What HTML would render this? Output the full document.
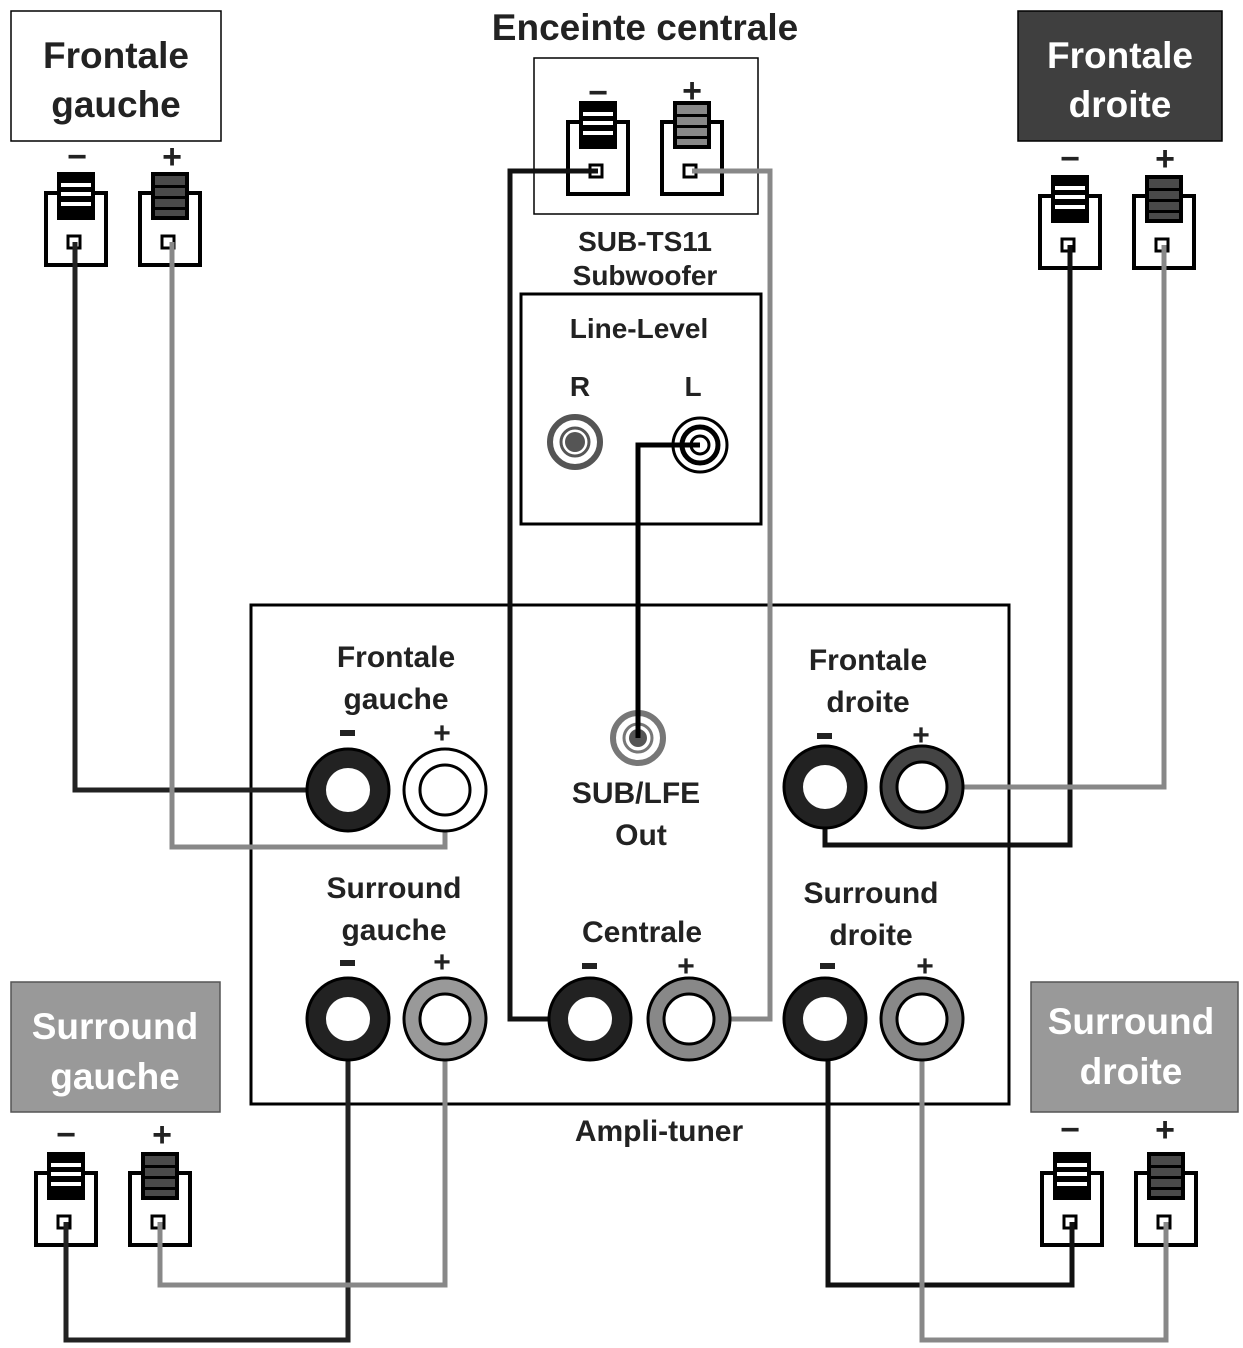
<!DOCTYPE html>
<html><head><meta charset="utf-8"><style>
html,body{margin:0;padding:0;background:#fff;}
svg{display:block;}
text{font-family:"Liberation Sans Narrow","Liberation Sans",sans-serif;font-weight:bold;text-anchor:middle;}
</style></head><body>
<svg width="1243" height="1348" viewBox="0 0 1243 1348" xmlns="http://www.w3.org/2000/svg">
<defs>
<g id="tm">
<rect x="0" y="0" width="60" height="72" fill="#fff" stroke="#000" stroke-width="4"/>
<rect x="11" y="-21" width="38" height="48" fill="#000"/>
<rect x="15" y="-10" width="30" height="4" fill="#fff"/>
<rect x="15" y="-1" width="30" height="4" fill="#fff"/>
<rect x="15" y="9" width="30" height="4" fill="#fff"/>
<rect x="22" y="43" width="12" height="12" fill="#fff" stroke="#000" stroke-width="3"/>
</g>
<g id="tp">
<rect x="0" y="0" width="60" height="72" fill="#fff" stroke="#000" stroke-width="4"/>
<rect x="13" y="-19" width="34" height="44" fill="#4a4a4a" stroke="#000" stroke-width="4"/>
<rect x="13" y="-8" width="34" height="3" fill="#000"/>
<rect x="13" y="3" width="34" height="3" fill="#000"/>
<rect x="13" y="14" width="34" height="3" fill="#000"/>
<rect x="22" y="43" width="12" height="12" fill="#fff" stroke="#000" stroke-width="3"/>
</g>
<g id="tpl">
<rect x="0" y="0" width="60" height="72" fill="#fff" stroke="#000" stroke-width="4"/>
<rect x="13" y="-19" width="34" height="44" fill="#888" stroke="#000" stroke-width="4"/>
<rect x="13" y="-8" width="34" height="3" fill="#000"/>
<rect x="13" y="3" width="34" height="3" fill="#000"/>
<rect x="13" y="14" width="34" height="3" fill="#000"/>
<rect x="22" y="43" width="12" height="12" fill="#fff" stroke="#000" stroke-width="3"/>
</g>
</defs>

<rect x="11" y="11" width="210" height="130" fill="#fff" stroke="#000" stroke-width="1.5"/>
<rect x="1018" y="11" width="204" height="130" fill="#3f3f3f" stroke="#000" stroke-width="1.5"/>
<rect x="11" y="982" width="209" height="130" fill="#999" stroke="#555" stroke-width="1.5"/>
<rect x="1031" y="982" width="207" height="130" fill="#999" stroke="#555" stroke-width="1.5"/>
<rect x="534" y="58" width="224" height="156" fill="#fff" stroke="#000" stroke-width="1.5"/>
<rect x="521" y="294" width="240" height="230" fill="none" stroke="#000" stroke-width="3"/>
<rect x="251" y="605" width="758" height="499" fill="none" stroke="#000" stroke-width="3"/>

<text x="116" y="68" font-size="37" fill="#222">Frontale</text>
<text x="116" y="117" font-size="37" fill="#222">gauche</text>
<text x="1120" y="68" font-size="37" fill="#fff">Frontale</text>
<text x="1120" y="117" font-size="37" fill="#fff">droite</text>
<text x="115" y="1039" font-size="37" fill="#fff">Surround</text>
<text x="115" y="1089" font-size="37" fill="#fff">gauche</text>
<text x="1131" y="1034" font-size="37" fill="#fff">Surround</text>
<text x="1131" y="1084" font-size="37" fill="#fff">droite</text>
<text x="645" y="40" font-size="37" fill="#222">Enceinte centrale</text>
<text x="645" y="251" font-size="28" fill="#222">SUB-TS11</text>
<text x="645" y="285" font-size="28" fill="#222">Subwoofer</text>
<text x="639" y="338" font-size="28" fill="#222">Line-Level</text>
<text x="580" y="396" font-size="28" fill="#222">R</text>
<text x="693" y="396" font-size="28" fill="#222">L</text>
<text x="396" y="667" font-size="30" fill="#222">Frontale</text>
<text x="396" y="709" font-size="30" fill="#222">gauche</text>
<text x="868" y="670" font-size="30" fill="#222">Frontale</text>
<text x="868" y="712" font-size="30" fill="#222">droite</text>
<text x="636" y="803" font-size="30" fill="#222">SUB/LFE</text>
<text x="641" y="845" font-size="30" fill="#222">Out</text>
<text x="394" y="898" font-size="30" fill="#222">Surround</text>
<text x="394" y="940" font-size="30" fill="#222">gauche</text>
<text x="642" y="942" font-size="30" fill="#222">Centrale</text>
<text x="871" y="903" font-size="30" fill="#222">Surround</text>
<text x="871" y="945" font-size="30" fill="#222">droite</text>
<text x="659" y="1141" font-size="30" fill="#222">Ampli-tuner</text>

<g font-size="34" fill="#222">
<text x="77" y="168">−</text><text x="172" y="168">+</text>
<text x="1070" y="170">−</text><text x="1165" y="170">+</text>
<text x="598" y="104">−</text><text x="692" y="102">+</text>
<text x="66" y="1146">−</text><text x="162" y="1146">+</text>
<text x="1070" y="1141">−</text><text x="1165" y="1141">+</text>
</g>
<g font-size="30" fill="#222">
<text x="442" y="743">+</text>
<text x="921" y="745">+</text>
<text x="442" y="972">+</text>
<text x="686" y="976">+</text>
<text x="925" y="976">+</text>
</g>
<g fill="#222">
<rect x="340" y="730" width="15" height="6"/>
<rect x="817" y="733" width="15" height="6"/>
<rect x="340" y="960" width="15" height="6"/>
<rect x="582" y="963" width="15" height="6"/>
<rect x="820" y="963" width="15" height="6"/>
</g>

<use href="#tm" x="46" y="193"/><use href="#tp" x="140" y="193"/>
<use href="#tm" x="1040" y="196"/><use href="#tp" x="1134" y="196"/>
<use href="#tm" x="568" y="122"/><use href="#tpl" x="662" y="122"/>
<use href="#tm" x="36" y="1173"/><use href="#tp" x="130" y="1173"/>
<use href="#tm" x="1042" y="1173"/><use href="#tp" x="1136" y="1173"/>

<g fill="none" stroke-width="5" stroke-linejoin="miter">
<polyline points="75,242 75,790 320,790" stroke="#222"/>
<polyline points="172,242 172,847 445,847 445,825" stroke="#888"/>
<polyline points="825,800 825,845 1070,845 1070,245" stroke="#111"/>
<polyline points="955,787 1164,787 1164,245" stroke="#888"/>
<polyline points="598,171 510,171 510,1019 560,1019" stroke="#111"/>
<polyline points="692,171 770,171 770,1019 720,1019" stroke="#888"/>
<polyline points="700,445 638,445 638,738" stroke="#000"/>
<polyline points="348,1050 348,1340 66,1340 66,1222" stroke="#222"/>
<polyline points="445,1050 445,1285 160,1285 160,1222" stroke="#888"/>
<polyline points="828,1050 828,1285 1072,1285 1072,1222" stroke="#111"/>
<polyline points="922,1050 922,1340 1166,1340 1166,1222" stroke="#888"/>
</g>

<circle cx="575" cy="442" r="25" fill="none" stroke="#555" stroke-width="6"/>
<circle cx="575" cy="442" r="14" fill="none" stroke="#555" stroke-width="3"/>
<circle cx="575" cy="442" r="10" fill="#555"/>
<circle cx="700" cy="445" r="27" fill="none" stroke="#000" stroke-width="3"/>
<circle cx="700" cy="445" r="18" fill="none" stroke="#000" stroke-width="5"/>
<circle cx="700" cy="445" r="9" fill="none" stroke="#000" stroke-width="3"/>
<circle cx="638" cy="738" r="25" fill="none" stroke="#777" stroke-width="6"/>
<circle cx="638" cy="738" r="14" fill="none" stroke="#777" stroke-width="3"/>
<circle cx="638" cy="738" r="9" fill="#555"/>
<line x1="638" y1="700" x2="638" y2="738" stroke="#000" stroke-width="5"/>

<g stroke="#000" stroke-width="3">
<circle cx="348" cy="790" r="41" fill="#222"/><circle cx="348" cy="790" r="22" fill="#fff" stroke="none"/>
<circle cx="445" cy="790" r="41" fill="#fff"/><circle cx="445" cy="790" r="25" fill="#fff"/>
<circle cx="825" cy="787" r="41" fill="#222"/><circle cx="825" cy="787" r="22" fill="#fff" stroke="none"/>
<circle cx="922" cy="787" r="41" fill="#444"/><circle cx="922" cy="787" r="25" fill="#fff"/>
<circle cx="348" cy="1019" r="41" fill="#222"/><circle cx="348" cy="1019" r="22" fill="#fff" stroke="none"/>
<circle cx="445" cy="1019" r="41" fill="#999"/><circle cx="445" cy="1019" r="25" fill="#fff"/>
<circle cx="590" cy="1019" r="41" fill="#222"/><circle cx="590" cy="1019" r="22" fill="#fff" stroke="none"/>
<circle cx="689" cy="1019" r="41" fill="#888"/><circle cx="689" cy="1019" r="25" fill="#fff"/>
<circle cx="825" cy="1019" r="41" fill="#222"/><circle cx="825" cy="1019" r="22" fill="#fff" stroke="none"/>
<circle cx="922" cy="1019" r="41" fill="#888"/><circle cx="922" cy="1019" r="25" fill="#fff"/>
</g>
</svg>
</body></html>
